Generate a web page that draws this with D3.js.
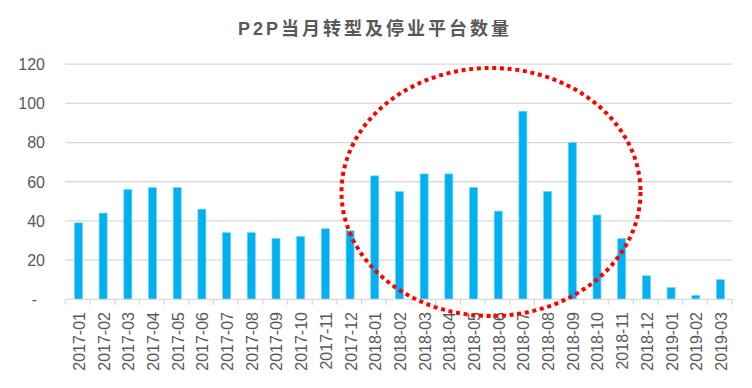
<!DOCTYPE html>
<html><head><meta charset="utf-8">
<script src="https://cdn.jsdelivr.net/npm/d3@7"></script>
<style>
html,body{margin:0;padding:0;background:#fff;}
svg{display:block;}
</style></head>
<body>
<svg id="c" width="752" height="388"></svg>
<script>
const title = "P2P当月转型及停业平台数量";
const categories = ["2017-01","2017-02","2017-03","2017-04","2017-05","2017-06","2017-07","2017-08","2017-09","2017-10","2017-11","2017-12","2018-01","2018-02","2018-03","2018-04","2018-05","2018-06","2018-07","2018-08","2018-09","2018-10","2018-11","2018-12","2019-01","2019-02","2019-03"];
const values = [39,44,56,57,57,46,34,34,31,32,36,35,63,55,64,64,57,45,96,55,80,43,31,12,6,2,10];
const yTicks = [0,20,40,60,80,100,120];
const yTickLabels = ["-","20","40","60","80","100","120"];

const svg = d3.select("#c");
const L = 65.3, R = 732, T = 64.2, B = 299.3;
const x = d3.scaleBand().domain(categories).range([L, R]).paddingInner(0.676).paddingOuter(0.338);
const xb = d3.scaleBand().domain(categories).range([L, R]);
const y = d3.scaleLinear().domain([0, 120]).range([B, T]);
const font = "'Liberation Sans', Arial, 'Noto Sans CJK SC', sans-serif";

// title
svg.append("text").attr("x", 375).attr("y", 35).attr("text-anchor", "middle")
  .attr("font-family", "'Liberation Sans', Arial, 'Noto Sans CJK SC', sans-serif")
  .attr("font-weight", "bold").attr("font-size", 18).attr("letter-spacing", 3)
  .attr("fill", "#595959").text(title);

// grid
svg.append("g").selectAll("line").data(yTicks.filter(d => d > 0)).join("line")
  .attr("x1", L).attr("x2", R).attr("y1", d => y(d)).attr("y2", d => y(d))
  .attr("stroke", "#D9D9D9").attr("stroke-width", 1.3);

// y labels
svg.append("g").selectAll("text").data(yTicks).join("text")
  .attr("x", (d, i) => d === 0 ? 37 : 45).attr("y", d => y(d)).attr("dy", "0.36em")
  .attr("text-anchor", "end").attr("font-family", font).attr("font-size", 16)
  .attr("fill", "#595959").text((d, i) => yTickLabels[i]);

// bars
svg.append("g").selectAll("rect").data(values).join("rect")
  .attr("x", (d, i) => x(categories[i]) + 0.8).attr("width", x.bandwidth())
  .attr("y", d => y(d)).attr("height", d => B - y(d))
  .attr("fill", "#00B0F0").attr("stroke", "#6fd2f6").attr("stroke-width", 0.7);

// x axis line and ticks
svg.append("line").attr("x1", L).attr("x2", R).attr("y1", B).attr("y2", B)
  .attr("stroke", "#D9D9D9").attr("stroke-width", 1.3);
const tickPos = categories.map(c => xb(c)).concat([R]);
svg.append("g").selectAll("line").data(tickPos).join("line")
  .attr("x1", d => d).attr("x2", d => d).attr("y1", B).attr("y2", B + 5.5)
  .attr("stroke", "#D9D9D9").attr("stroke-width", 1.3);

// x labels
svg.append("g").selectAll("text").data(categories).join("text")
  .attr("transform", d => `translate(${xb(d) + xb.bandwidth() / 2 + 1.5},312) rotate(-90)`)
  .attr("dy", "0.36em").attr("text-anchor", "end")
  .attr("font-family", font).attr("font-size", 16).attr("fill", "#595959").text(d => d);

// red dotted ellipse highlight
svg.append("ellipse").attr("cx", 491).attr("cy", 192).attr("rx", 149.5).attr("ry", 124)
  .attr("fill", "none").attr("stroke", "#FF0000").attr("stroke-width", 4)
  .attr("stroke-dasharray", "4 3.7");
</script>
</body></html>
